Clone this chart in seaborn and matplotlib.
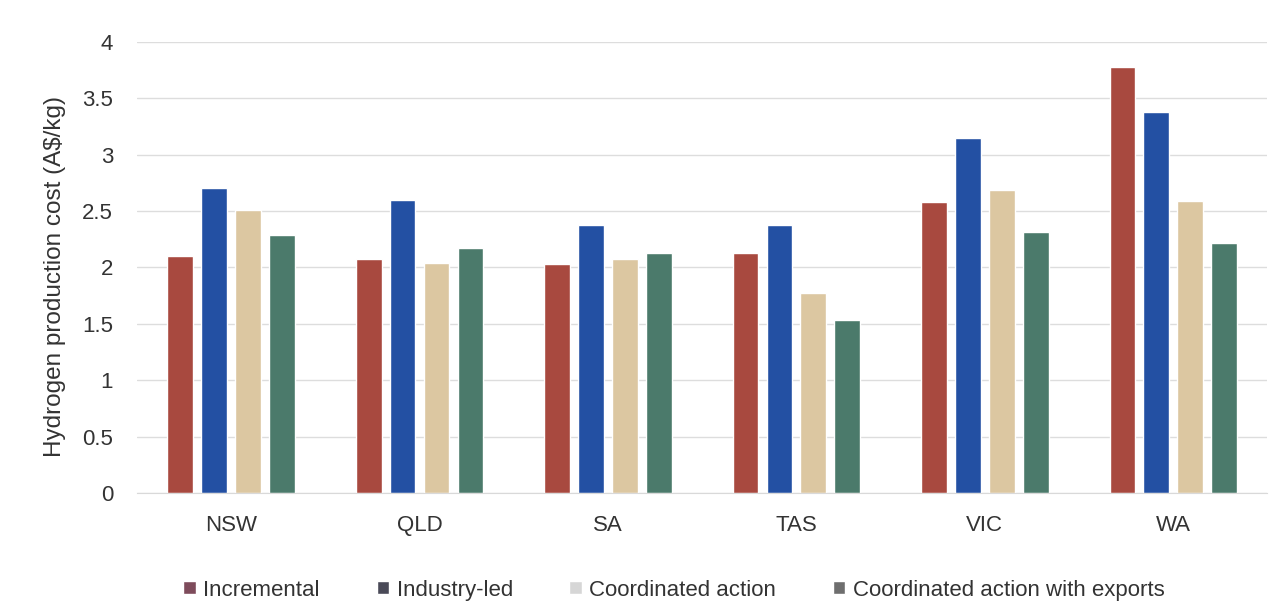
import numpy as np
import pandas as pd
import matplotlib.pyplot as plt
import seaborn as sns

# Data
states = ["NSW", "QLD", "SA", "TAS", "VIC", "WA"]
scenarios = ["Incremental", "Industry-led", "Coordinated action", "Coordinated action with exports"]
incremental = [2.10, 2.07, 2.03, 2.13, 2.58, 3.78]
industry_led = [2.70, 2.60, 2.38, 2.38, 3.15, 3.38]
coordinated = [2.51, 2.04, 2.07, 1.77, 2.69, 2.59]
coordinated_exports = [2.29, 2.17, 2.13, 1.53, 2.31, 2.22]
colors = ["#A8493F", "#2350A3", "#DCC7A1", "#4B7A6B"]
# the legend swatches in the original are washed out / greyish
legend_colors = ["#7E4B5B", "#4A4A58", "#D6D6D6", "#6E6E6E"]

df = pd.DataFrame({
    "state": states * 4,
    "scenario": np.repeat(scenarios, len(states)),
    "cost": incremental + industry_led + coordinated + coordinated_exports,
})

sns.set_style("white")
plt.rcParams["font.family"] = ["Liberation Sans", "DejaVu Sans"]

fig = plt.figure(figsize=(12.79, 6.07), dpi=100)
ax = fig.add_axes([0.107, 0.188, 0.884, 0.743])

sns.barplot(data=df, x="state", y="cost", hue="scenario", hue_order=scenarios,
            palette=colors, width=0.72, gap=0.24, saturation=1, ax=ax)

ax.set_ylim(0, 4)
ax.set_yticks(np.arange(0, 4.01, 0.5))
ax.set_yticklabels(["0", "0.5", "1", "1.5", "2", "2.5", "3", "3.5", "4"])
ax.yaxis.grid(True, color="#DDDDDD", linewidth=1)
ax.set_axisbelow(True)
for s in ["top", "right", "left"]:
    ax.spines[s].set_visible(False)
ax.spines["bottom"].set_color("#D9D9D9")
ax.tick_params(axis="both", length=0, labelsize=16, colors="#333333")
ax.tick_params(axis="y", pad=17)
ax.tick_params(axis="x", pad=16)
ax.set_xlabel("")
ax.set_ylabel("Hydrogen production cost (A$/kg)", fontsize=17.5, color="#333333")
ax.yaxis.set_label_coords(-0.063, 0.48)

handles, labels = ax.get_legend_handles_labels()
ax.legend_.remove()
leg = fig.legend(handles, labels, loc="center", bbox_to_anchor=(0.527, 0.028), ncol=4,
                 frameon=False, fontsize=16, handlelength=0.55, handleheight=0.55,
                 handletextpad=0.35, columnspacing=2.55, labelcolor="#333333")
for h, c in zip(leg.legend_handles, legend_colors):
    h.set_facecolor(c)

fig.savefig("out.png", dpi=100)
